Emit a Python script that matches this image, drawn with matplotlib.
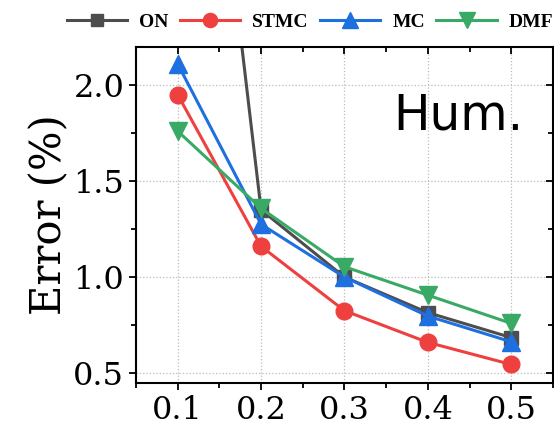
import numpy as np
import matplotlib.pyplot as plt
from matplotlib.ticker import MultipleLocator

# sampling ratios and errors (%) per method
ratios = [0.1, 0.2, 0.3, 0.4, 0.5]
err_on = [5.04, 1.35, 1.00, 0.815, 0.685]
err_stmc = [1.95, 1.16, 0.825, 0.66, 0.545]
err_mc = [2.11, 1.275, 1.00, 0.797, 0.663]
err_dmf = [1.76, 1.358, 1.054, 0.906, 0.759]
xlabels = ['0.1', '0.2', '0.3', '0.4', '0.5']
yticks = [0.5, 1.0, 1.5, 2.0]

SERIF = 'DejaVu Serif'

fig = plt.figure(figsize=(5.54, 4.29), dpi=100)
ax = fig.add_axes([0.2455, 0.107, 0.7525, 0.7834])

lw = 2.2
l1, = ax.plot(ratios, err_on, color='#4d4d4d', marker='s', ms=10, lw=lw, label='ON')
l2, = ax.plot(ratios, err_stmc, color='#ef4040', marker='o', ms=12, lw=lw, label='STMC')
l3, = ax.plot(ratios, err_mc, color='#1e6fdf', marker='^', ms=13, lw=lw, label='MC')
l4, = ax.plot(ratios, err_dmf, color='#39aa66', marker='v', ms=13, lw=lw, label='DMF')

ax.set_xlim(0.05, 0.55)
ax.set_ylim(0.448, 2.198)
ax.set_xticks(ratios)
ax.set_xticklabels(xlabels)
ax.set_yticks(yticks)
ax.set_yticklabels(['%.1f' % v for v in yticks])
ax.xaxis.set_minor_locator(MultipleLocator(0.05))
ax.yaxis.set_minor_locator(MultipleLocator(0.25))
ax.grid(True, which='major', linestyle=':', color='#bbbbbb', lw=0.9)

for s in ax.spines.values():
    s.set_linewidth(1.5)
ax.tick_params(which='both', direction='out', width=1.3, labelsize=23, top=True, right=True)
ax.tick_params(which='major', length=5)
ax.tick_params(which='minor', length=3.5)
# mirrored ticks on top/right point inward
for t in ax.xaxis.get_major_ticks() + ax.xaxis.get_minor_ticks():
    t.tick2line.set_marker(3)
for t in ax.yaxis.get_major_ticks() + ax.yaxis.get_minor_ticks():
    t.tick2line.set_marker(0)
for lab in ax.get_xticklabels() + ax.get_yticklabels():
    lab.set_family(SERIF)

ax.set_ylabel('Error (%)', family=SERIF, fontsize=30, labelpad=2)

ax.text(0.93, 0.795, 'Hum.', transform=ax.transAxes, ha='right', va='center',
        fontsize=35, family='DejaVu Sans')

fig.legend(handles=[l1, l2, l3, l4], loc='center', ncol=4,
           bbox_to_anchor=(310 / 554, 1 - 22 / 429), frameon=False,
           prop={'family': 'Liberation Serif', 'weight': 'bold', 'size': 14},
           handlelength=3.1, handletextpad=0.6, columnspacing=0.6,
           borderpad=0.1, markerscale=0.85)

fig.savefig('out.png', dpi=100)
